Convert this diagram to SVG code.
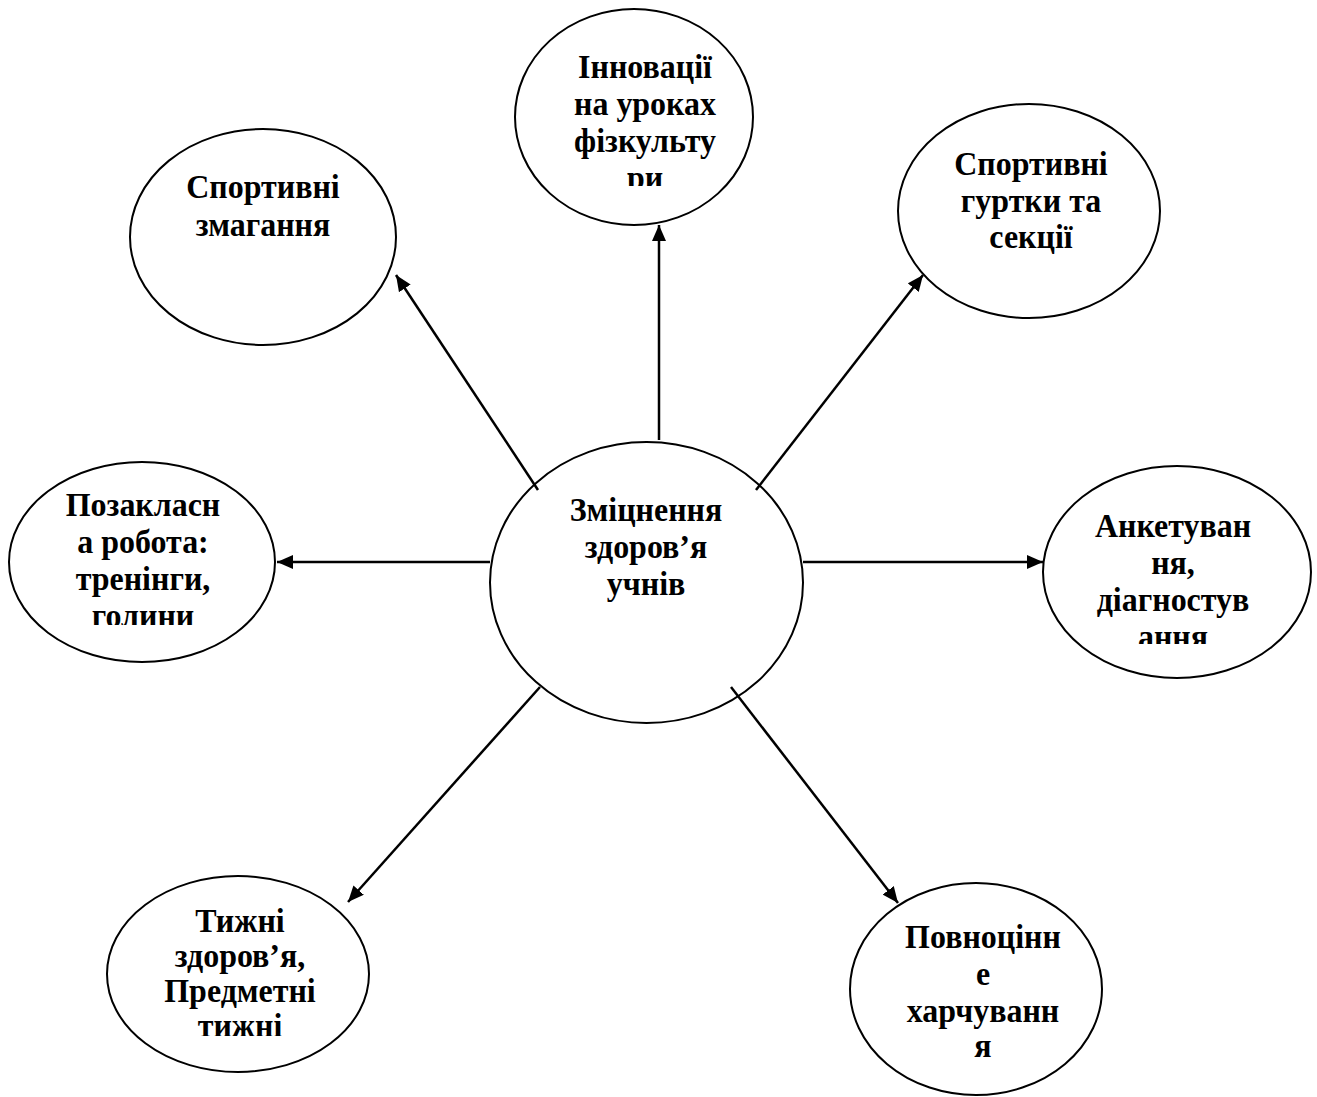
<svg xmlns="http://www.w3.org/2000/svg" width="1317" height="1097" viewBox="0 0 1317 1097">
<style>
.n ellipse{fill:#fff;stroke:#000;stroke-width:2}
.n text{font-family:"Liberation Serif","Times New Roman",serif;font-weight:bold;font-size:34px;fill:#000;text-anchor:middle}
.c line{stroke:#000;stroke-width:2.5;marker-end:url(#ah)}
</style>
<defs>
<marker id="ah" markerUnits="userSpaceOnUse" markerWidth="16" markerHeight="14" refX="16" refY="7" orient="auto">
<path d="M0,0 L16,7 L0,14 z" fill="#000"/>
</marker>
<clipPath id="k1"><rect x="515" y="40" width="240" height="146"/></clipPath>
<clipPath id="k2"><rect x="10" y="480" width="270" height="145"/></clipPath>
<clipPath id="k3"><rect x="1043" y="500" width="270" height="144"/></clipPath>
<clipPath id="k4"><rect x="107" y="890" width="265" height="146"/></clipPath>
</defs>
<g id="center" class="n">
<ellipse cx="646.5" cy="582.5" rx="156.5" ry="140.5"/>
<g transform="matrix(0.94,0,0,1,38.76,0)">
<text x="646" y="521">Зміцнення</text>
<text x="646" y="558">здоров’я</text>
<text x="646" y="595">учнів</text>
</g>
</g>
<g id="innovations" class="n">
<ellipse cx="634" cy="117" rx="119" ry="108"/>
<g clip-path="url(#k1)"><g transform="matrix(0.94,0,0,1,38.7,0)">
<text x="645" y="78">Інновації</text>
<text x="645" y="115">на уроках</text>
<text x="645" y="152">фізкульту</text>
<text x="645" y="189">ри</text>
</g></g>
</g>
<g id="competitions" class="n">
<ellipse cx="263" cy="237" rx="133" ry="108"/>
<g transform="matrix(0.94,0,0,1,15.78,0)">
<text x="263" y="198">Спортивні</text>
<text x="263" y="236">змагання</text>
</g>
</g>
<g id="clubs" class="n">
<ellipse cx="1029" cy="211" rx="131" ry="107"/>
<g transform="matrix(0.94,0,0,1,61.86,0)">
<text x="1031" y="175">Спортивні</text>
<text x="1031" y="212">гуртки та</text>
<text x="1031" y="248">секції</text>
</g>
</g>
<g id="extracurricular" class="n">
<ellipse cx="142" cy="562" rx="133" ry="100"/>
<g clip-path="url(#k2)"><g transform="matrix(0.94,0,0,1,8.58,0)">
<text x="143" y="516">Позакласн</text>
<text x="143" y="553">а робота:</text>
<text x="143" y="590">тренінги,</text>
<text x="143" y="627">голини</text>
</g></g>
</g>
<g id="survey" class="n">
<ellipse cx="1177" cy="572" rx="134" ry="106"/>
<g clip-path="url(#k3)"><g transform="matrix(0.94,0,0,1,70.38,0)">
<text x="1173" y="537">Анкетуван</text>
<text x="1173" y="574">ня,</text>
<text x="1173" y="611">діагностув</text>
<text x="1173" y="648">ання</text>
</g></g>
</g>
<g id="weeks" class="n">
<ellipse cx="238" cy="974" rx="131" ry="98"/>
<g clip-path="url(#k4)"><g transform="matrix(0.94,0,0,1,14.4,0)">
<text x="240" y="932">Тижні</text>
<text x="240" y="967">здоров’я,</text>
<text x="240" y="1002">Предметні</text>
<text x="240" y="1037">тижні</text>
</g></g>
</g>
<g id="nutrition" class="n">
<ellipse cx="976" cy="989" rx="126" ry="106"/>
<g transform="matrix(0.94,0,0,1,58.98,0)">
<text x="983" y="948">Повноцінн</text>
<text x="983" y="985">е</text>
<text x="983" y="1022">харчуванн</text>
<text x="983" y="1057">я</text>
</g>
</g>
<g id="connectors" class="c">
<line x1="659" y1="440" x2="659" y2="225"/>
<line x1="538" y1="490" x2="396" y2="275"/>
<line x1="756" y1="490" x2="923" y2="275"/>
<line x1="490" y1="562" x2="277" y2="562"/>
<line x1="803" y1="562" x2="1043" y2="562"/>
<line x1="540" y1="687" x2="348" y2="902"/>
<line x1="731" y1="687" x2="898" y2="903"/>
</g>
</svg>
